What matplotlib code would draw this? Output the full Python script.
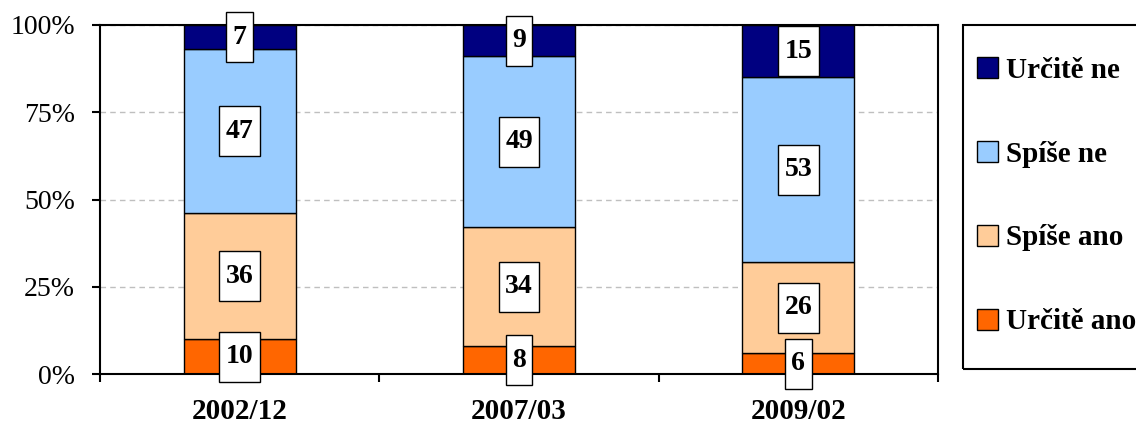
import numpy as np
import matplotlib.pyplot as plt
from matplotlib.path import Path
from matplotlib.patches import Rectangle

categories = ['2002/12', '2007/03', '2009/02']
series = ['Určitě ano', 'Spíše ano', 'Spíše ne', 'Určitě ne']
urcite_ano = [10, 8, 6]
spise_ano = [36, 34, 26]
spise_ne = [47, 49, 53]
urcite_ne = [7, 9, 15]
colors = ['#FF6600', '#FFCC99', '#99CCFF', '#000080']

plt.rcParams['font.family'] = ['Liberation Serif', 'DejaVu Serif']


# white label box, taller than wide padding like the original
def label_box(x0, y0, width, height, mutation_size):
    px = 0.23 * mutation_size
    py = 0.45 * mutation_size
    xa, ya = x0 - px, y0 - py
    xb, yb = x0 + width + px, y0 + height + py
    return Path([(xa, ya), (xb, ya), (xb, yb), (xa, yb), (xa, ya)], closed=True)


fig = plt.figure(figsize=(11.36, 4.28), dpi=100)
ax = fig.add_axes([100 / 1136, 1 - 374 / 428, 838 / 1136, 349 / 428])

x = np.arange(len(categories))
bottom = np.zeros(len(categories))
bars = []
for vals, name, col in zip([urcite_ano, spise_ano, spise_ne, urcite_ne], series, colors):
    b = ax.bar(x, vals, 0.4, bottom=bottom, color=col, edgecolor='black',
               linewidth=1, label=name, zorder=2)
    bars.append(b)
    for xi, bi, v in zip(x, bottom, vals):
        ax.text(xi, bi + v / 2, str(v), ha='center', va='center', fontsize=20,
                fontweight='bold', zorder=5,
                bbox=dict(boxstyle=label_box, fc='white', ec='black', lw=1))
    bottom = bottom + np.array(vals)

ax.set_xlim(-0.5, 2.5)
ax.set_ylim(0, 100)
ax.set_yticks([0, 25, 50, 75, 100])
ax.set_yticklabels([f'{v}%' for v in [0, 25, 50, 75, 100]], fontsize=20)
ax.set_xticks(x)
ax.set_xticklabels(categories, fontsize=21, fontweight='bold')
ax.set_xticks([-0.5, 0.5, 1.5, 2.5], minor=True)
ax.tick_params(axis='x', which='major', length=0, pad=17)
ax.tick_params(axis='x', which='minor', length=6, width=1.5, direction='out')
ax.tick_params(axis='y', length=6, width=1.5, direction='out', pad=12)
ax.yaxis.grid(True, color='#BFBFBF', linestyle=(0, (4, 3)), linewidth=1)
ax.set_axisbelow(True)
for s in ax.spines.values():
    s.set_linewidth(1.5)

# legend entries without frame, box drawn separately (it runs off the right edge)
leg = ax.legend([b for b in bars[::-1]], series[::-1], loc='center left',
                bbox_to_anchor=(977 / 1136, 1 - 196 / 428), bbox_transform=fig.transFigure,
                borderaxespad=0, borderpad=0, frameon=False,
                prop=dict(weight='bold', size=21), handlelength=0.72, handleheight=0.72,
                handletextpad=0.28, labelspacing=1.95)
fig.patches.append(Rectangle((963 / 1136, 1 - 369 / 428), 0.3, 344 / 428,
                             transform=fig.transFigure, fill=False,
                             edgecolor='black', linewidth=1.5))

fig.savefig('out.png', dpi=100)
